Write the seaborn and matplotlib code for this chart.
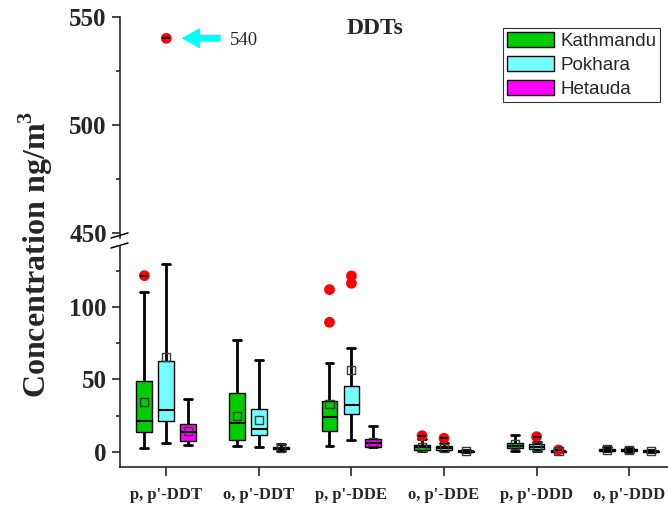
import numpy as np
import pandas as pd
import matplotlib
matplotlib.use("Agg")
import matplotlib.pyplot as plt
from matplotlib.patches import Patch
from matplotlib.lines import Line2D
import seaborn as sns

# ---------------- data ----------------
compounds = ["p, p'-DDT", "o, p'-DDT", "p, p'-DDE", "o, p'-DDE", "p, p'-DDD", "o, p'-DDD"]
sites = ["Kathmandu", "Pokhara", "Hetauda"]

kathmandu_lo = [2.8, 4.2, 3.9, 0.5, 0.3, 0.2]
kathmandu_q1 = [13.4, 7.9, 14.5, 1.2, 2.3, 0.6]
kathmandu_med = [21.3, 19.7, 23.8, 3.0, 4.2, 1.2]
kathmandu_q3 = [48.7, 40.4, 34.9, 4.8, 6.2, 2.2]
kathmandu_hi = [110.8, 77.4, 61.4, 8.6, 11.4, 3.2]
kathmandu_mean = [34.6, 24.7, 33.0, 3.5, 5.0, 1.5]
kathmandu_out = [[121.9], [], [112.2, 89.6], [11.1], [], []]

pokhara_lo = [6.0, 3.0, 8.1, 0.3, 0.2, 0.1]
pokhara_q1 = [21.5, 11.3, 25.9, 1.0, 1.7, 0.3]
pokhara_med = [29.1, 15.9, 32.5, 2.4, 3.5, 0.7]
pokhara_q3 = [63.0, 29.6, 45.3, 4.2, 5.5, 1.6]
pokhara_hi = [130.0, 63.5, 71.8, 6.0, 7.0, 2.4]
pokhara_mean = [65.8, 21.7, 56.4, 2.6, 3.6, 0.9]
pokhara_out = [[540.0], [], [121.7, 116.6], [9.3], [10.4], []]

hetauda_lo = [4.4, 0.5, 3.0, 0.0, 0.0, 0.0]
hetauda_q1 = [7.4, 1.6, 3.3, 0.1, 0.1, 0.0]
hetauda_med = [13.6, 2.4, 6.0, 0.3, 0.2, 0.2]
hetauda_q3 = [19.4, 3.2, 8.8, 0.6, 0.5, 0.5]
hetauda_hi = [36.7, 5.3, 17.8, 1.0, 0.8, 1.0]
hetauda_mean = [14.3, 2.5, 6.5, 0.4, 0.4, 0.3]
hetauda_out = [[], [], [], [], [1.2], []]

# maxima drawn with a dash marker on top of the outlier (Origin style)
maxdash = {"Kathmandu": [121.9, None, None, 11.1, None, None],
           "Pokhara": [540.0, None, None, 9.3, 10.4, None],
           "Hetauda": [None, None, None, None, 1.2, None]}

colors = ["#00cc00", "#73ffff", "#ff00ff"]

summ = {
    "Kathmandu": (kathmandu_lo, kathmandu_q1, kathmandu_med, kathmandu_q3, kathmandu_hi, kathmandu_mean, kathmandu_out),
    "Pokhara": (pokhara_lo, pokhara_q1, pokhara_med, pokhara_q3, pokhara_hi, pokhara_mean, pokhara_out),
    "Hetauda": (hetauda_lo, hetauda_q1, hetauda_med, hetauda_q3, hetauda_hi, hetauda_mean, hetauda_out),
}

# long table of five-number summaries (quartiles reproduce exactly)
rows = []
for s in sites:
    lo, q1, med, q3, hi, mean, out = summ[s]
    for i, c in enumerate(compounds):
        for v in (lo[i], q1[i], med[i], q3[i], hi[i]):
            rows.append((c, s, v))
df = pd.DataFrame(rows, columns=["compound", "site", "value"])

WIDTH = 0.711
step = WIDTH / len(sites)
offs = {s: (k - 1) * step for k, s in enumerate(sites)}

mean_x, mean_y, out_x, out_y, dash_x, dash_y = [], [], [], [], [], []
for s in sites:
    lo, q1, med, q3, hi, mean, out = summ[s]
    for i in range(len(compounds)):
        mean_x.append(i + offs[s]); mean_y.append(mean[i])
        for v in out[i]:
            out_x.append(i + offs[s]); out_y.append(v)
        if maxdash[s][i] is not None:
            dash_x.append(i + offs[s]); dash_y.append(maxdash[s][i])

# ---------------- style ----------------
sns.set_theme(style="ticks")
plt.rcParams["font.family"] = ["Liberation Serif", "DejaVu Serif"]
plt.rcParams["mathtext.fontset"] = "custom"
plt.rcParams["mathtext.rm"] = "Liberation Serif:bold"
plt.rcParams["mathtext.bf"] = "Liberation Serif:bold"
plt.rcParams["axes.linewidth"] = 1.2

W, H = 668, 507
fig = plt.figure(figsize=(W / 100, H / 100), dpi=100)
left, right = 120 / W, 668 / W
ax_up = fig.add_axes([left, 1 - 237.5 / H, right - left, (237.5 - 16.7) / H])
ax_lo = fig.add_axes([left, 1 - 467 / H, right - left, (467 - 246) / H])

for ax in (ax_up, ax_lo):
    sns.boxplot(data=df, x="compound", y="value", hue="site", hue_order=sites,
                order=compounds, palette=colors, saturation=1, whis=(0, 100),
                showfliers=False, width=WIDTH, gap=0.28, linecolor="black",
                linewidth=1.0, legend=False, ax=ax,
                whiskerprops={"linewidth": 2.0}, capprops={"linewidth": 2.0},
                medianprops={"linewidth": 1.5, "color": "black"})
    sns.scatterplot(x=out_x, y=out_y, color="red", s=60, edgecolor="none",
                    ax=ax, zorder=5, clip_on=True)
    sns.scatterplot(x=dash_x, y=dash_y, marker="_", color="black",
                    edgecolor="black", s=40, linewidth=1.5, ax=ax, zorder=6)
    sns.scatterplot(x=mean_x, y=mean_y, marker="s", facecolor="none",
                    edgecolor="#3a3a3a", s=34, linewidth=1.0, ax=ax, zorder=6)
    ax.set_xlim(-0.5, 5.42)
    ax.set_xlabel("")
    ax.set_ylabel("")
    for sp in ("top", "right"):
        ax.spines[sp].set_visible(False)
    ax.tick_params(axis="y", which="major", direction="out", length=5.5,
                   width=1.2, pad=4, labelsize=18)
    ax.tick_params(axis="y", which="minor", direction="out", length=3, width=1.2)

ax_up.set_ylim(447.8, 550)
ax_up.set_yticks([450, 500, 550])
ax_up.set_yticks([475, 525], minor=True)
ax_up.set_yticklabels(["450", "500", "550"], fontweight="bold", fontsize=18)
ax_up.spines["bottom"].set_visible(False)
ax_up.tick_params(axis="x", which="both", bottom=False, labelbottom=False)

ax_lo.set_ylim(-10.6, 142.4)
ax_lo.set_yticks([0, 50, 100])
ax_lo.set_yticks([25, 75, 125], minor=True)
ax_lo.set_yticklabels(["0", "50", "100"], fontweight="bold", fontsize=18)
ax_lo.set_xticks(range(len(compounds)))
ax_lo.set_xticklabels(compounds, fontweight="bold", fontsize=12)
ax_lo.tick_params(axis="x", which="major", direction="out", length=6.5,
                  width=1.2, pad=8)
ax_lo.tick_params(axis="x", which="minor", bottom=False)

# axis break marks
for y0 in (237.5, 247.5):
    fig.add_artist(Line2D([111 / W, 128 / W], [1 - (y0 + 0.5) / H, 1 - (y0 - 4.5) / H],
                          color="black", lw=1.1))

# arrow + annotation for the extreme value
ax_up.annotate("", xy=(0.18, 540), xytext=(0.58, 540),
               arrowprops=dict(arrowstyle="simple,head_length=0.85,head_width=0.95,tail_width=0.28",
                               color="#00ffff", shrinkA=0, shrinkB=0, mutation_scale=14))
ax_up.text(0.69, 539.2, "540", fontsize=13.5, va="center", ha="left")

fig.text(375.5 / W, 1 - 29 / H, "DDTs", fontsize=17, fontweight="bold",
         ha="center", va="center")
fig.text(36 / W, 1 - 254 / H, r"Concentration ng/m$^{3}$", fontsize=23,
         fontweight="bold", rotation=90, ha="center", va="center")

handles = [Patch(facecolor=c, edgecolor="black", linewidth=1.0) for c in colors]
leg = fig.legend(handles, sites, loc="upper right",
                 bbox_to_anchor=(660 / W, 1 - 28.3 / H), frameon=True,
                 fancybox=False, shadow=False, borderpad=0.2, borderaxespad=0,
                 handlelength=2.5, handleheight=0.85, handletextpad=0.35,
                 labelspacing=0.32, prop={"family": "Liberation Sans", "size": 13.5})
leg.get_frame().set_edgecolor("black")
leg.get_frame().set_linewidth(0.8)

fig.savefig("out.png", dpi=100)
